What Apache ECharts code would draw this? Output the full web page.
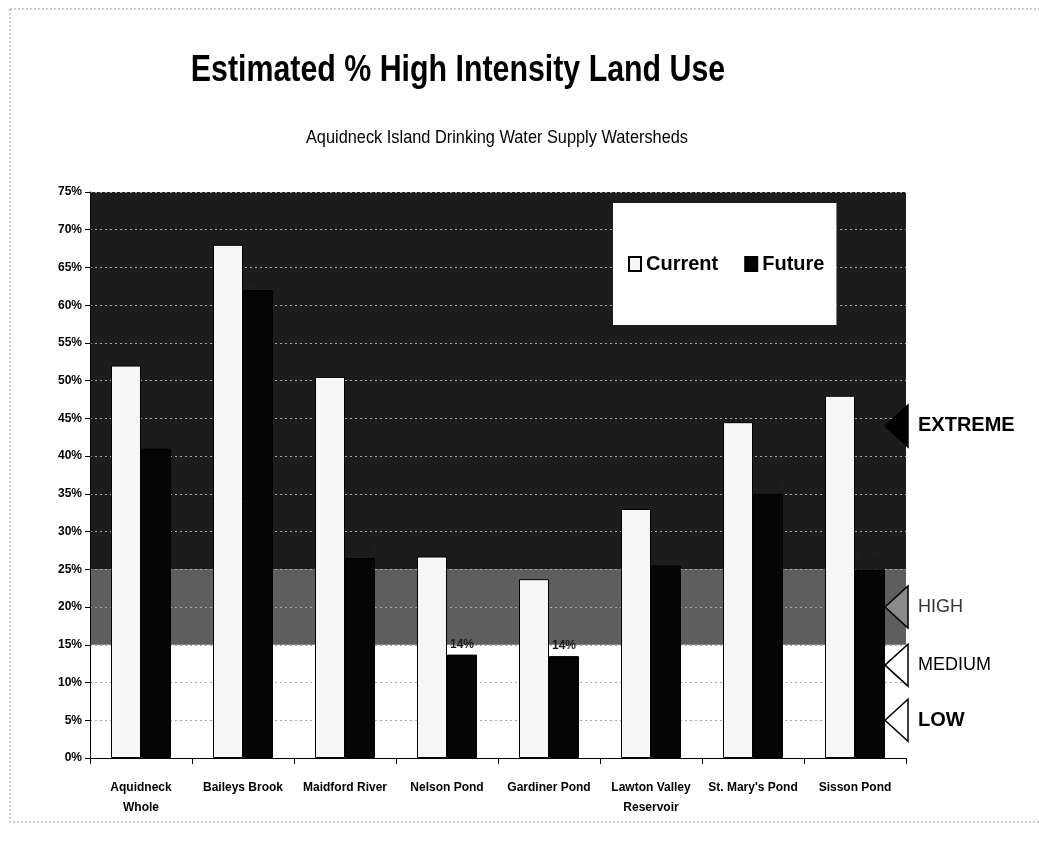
<!DOCTYPE html>
<html>
<head>
<meta charset="utf-8">
<script src="https://cdn.jsdelivr.net/npm/echarts@6/dist/echarts.min.js"></script>
<style>html,body{margin:0;padding:0;background:#fff}#c{width:1039px;height:844px}</style>
</head>
<body>
<div id="c"></div>
<script>
// ---- data ----
var categories = ['Aquidneck\nWhole', 'Baileys Brook', 'Maidford River', 'Nelson Pond', 'Gardiner Pond', 'Lawton Valley\nReservoir', "St. Mary's Pond", 'Sisson Pond'];
var currentValues = [52, 68, 50.5, 26.7, 23.7, 33, 44.5, 48];
var futureValues = [41, 62, 26.5, 13.7, 13.5, 25.5, 35, 25];
var seriesNames = ['Current', 'Future'];
var riskLevels = ['EXTREME', 'HIGH', 'MEDIUM', 'LOW'];
var riskLabelValues = [44, 20, 12.3, 5];
var titleText = 'Estimated % High Intensity Land Use';
var subtitleText = 'Aquidneck Island Drinking Water Supply Watersheds';
var bandColors = ['#ffffff', '#ffffff', '#ffffff', '#5e5e5e', '#5e5e5e',
  '#1c1c1c', '#1c1c1c', '#1c1c1c', '#1c1c1c', '#1c1c1c', '#1c1c1c', '#1c1c1c', '#1c1c1c', '#1c1c1c', '#1c1c1c'];

var ARIAL = "'Liberation Sans', Arial, sans-serif";
var GRID = {left: 90, right: 133, top: 192, bottom: 86};

var chart = echarts.init(document.getElementById('c'), null, {renderer: 'canvas'});
var option = {
  backgroundColor: '#ffffff',
  animation: false,
  legend: {
    data: seriesNames, left: 613, top: 203, orient: 'horizontal',
    backgroundColor: '#ffffff', padding: [51, 12, 51, 15], itemGap: 26,
    itemWidth: 12, itemHeight: 14, icon: 'rect',
    textStyle: {fontFamily: ARIAL, fontWeight: 'bold', fontSize: 20, color: '#000'}
  },
  grid: GRID,
  xAxis: {
    type: 'category', data: categories,
    axisLine: {show: true, lineStyle: {color: '#000', width: 1}},
    axisTick: {show: true, alignWithLabel: false, length: 6, lineStyle: {color: '#000'}},
    axisLabel: {fontFamily: ARIAL, fontWeight: 'bold', fontSize: 12, color: '#000', margin: 20, lineHeight: 20, interval: 0},
    splitLine: {show: false}
  },
  yAxis: {
    type: 'value', min: 0, max: 75, interval: 5,
    axisLine: {show: true, lineStyle: {color: '#000', width: 1}},
    axisTick: {show: true, length: 5, lineStyle: {color: '#000'}},
    axisLabel: {formatter: '{value}%', fontFamily: ARIAL, fontWeight: 'bold', fontSize: 12, color: '#000', margin: 8},
    splitArea: {show: true, areaStyle: {color: bandColors}},
    splitLine: {show: true, lineStyle: {color: '#a8a8a8', type: [2, 3], width: 1}}
  },
  series: [
    {name: seriesNames[0], type: 'bar', data: currentValues, barWidth: 30, barGap: '0%',
     itemStyle: {color: '#f6f6f6', borderColor: '#000', borderWidth: 1}},
    {name: seriesNames[1], type: 'bar', data: futureValues, barWidth: 30, barGap: '0%',
     itemStyle: {color: '#050505', borderColor: '#000', borderWidth: 1},
     label: {show: true, position: 'top', distance: 4, color: '#1a1a1a',
       fontFamily: ARIAL, fontWeight: 'bold', fontSize: 12,
       formatter: function (p) { return Math.round(p.value) + '%'; }}}
  ]
};
chart.setOption(option);

// titles (condensed look) and side annotations positioned through the y axis scale
var gridRightX = chart.getWidth() - GRID.right;
var fills = ['#000000', '#8a8a8a', '#ffffff', '#ffffff'];
var fonts = [
  {fontWeight: 'bold', fontSize: 20, fill: '#000'},
  {fontWeight: 'normal', fontSize: 18, fill: '#333'},
  {fontWeight: 'normal', fontSize: 18, fill: '#000'},
  {fontWeight: 'bold', fontSize: 20, fill: '#000'}
];
var graphics = [
  {type: 'rect', shape: {x: 10, y: 9, width: 1040, height: 813}, silent: true, z: 0,
   style: {fill: 'none', stroke: '#9a9a9a', lineWidth: 1, lineDash: [2, 2]}},
  {type: 'text', x: 458, y: 71, scaleX: 0.82, z: 100,
   style: {text: titleText, fontFamily: ARIAL, fontWeight: 'bold', fontSize: 37, fill: '#000',
     align: 'center', verticalAlign: 'middle'}},
  {type: 'text', x: 497, y: 138, scaleX: 0.86, z: 100,
   style: {text: subtitleText, fontFamily: ARIAL, fontWeight: 'normal', fontSize: 19, fill: '#000',
     align: 'center', verticalAlign: 'middle'}}
];
riskLevels.forEach(function (name, i) {
  var cy = chart.convertToPixel({yAxisIndex: 0}, riskLabelValues[i]);
  var half = 21;
  graphics.push({
    type: 'polygon', z: 100,
    shape: {points: [[gridRightX - 21, cy], [gridRightX + 2, cy - half], [gridRightX + 2, cy + half]]},
    style: {fill: fills[i], stroke: '#000', lineWidth: 1.5}
  });
  graphics.push({
    type: 'text', z: 100, x: gridRightX + 12, y: cy,
    style: {text: name, fontFamily: ARIAL, fontWeight: fonts[i].fontWeight, fontSize: fonts[i].fontSize,
      fill: fonts[i].fill, verticalAlign: 'middle'}
  });
});
chart.setOption({graphic: graphics});
</script>
</body>
</html>
